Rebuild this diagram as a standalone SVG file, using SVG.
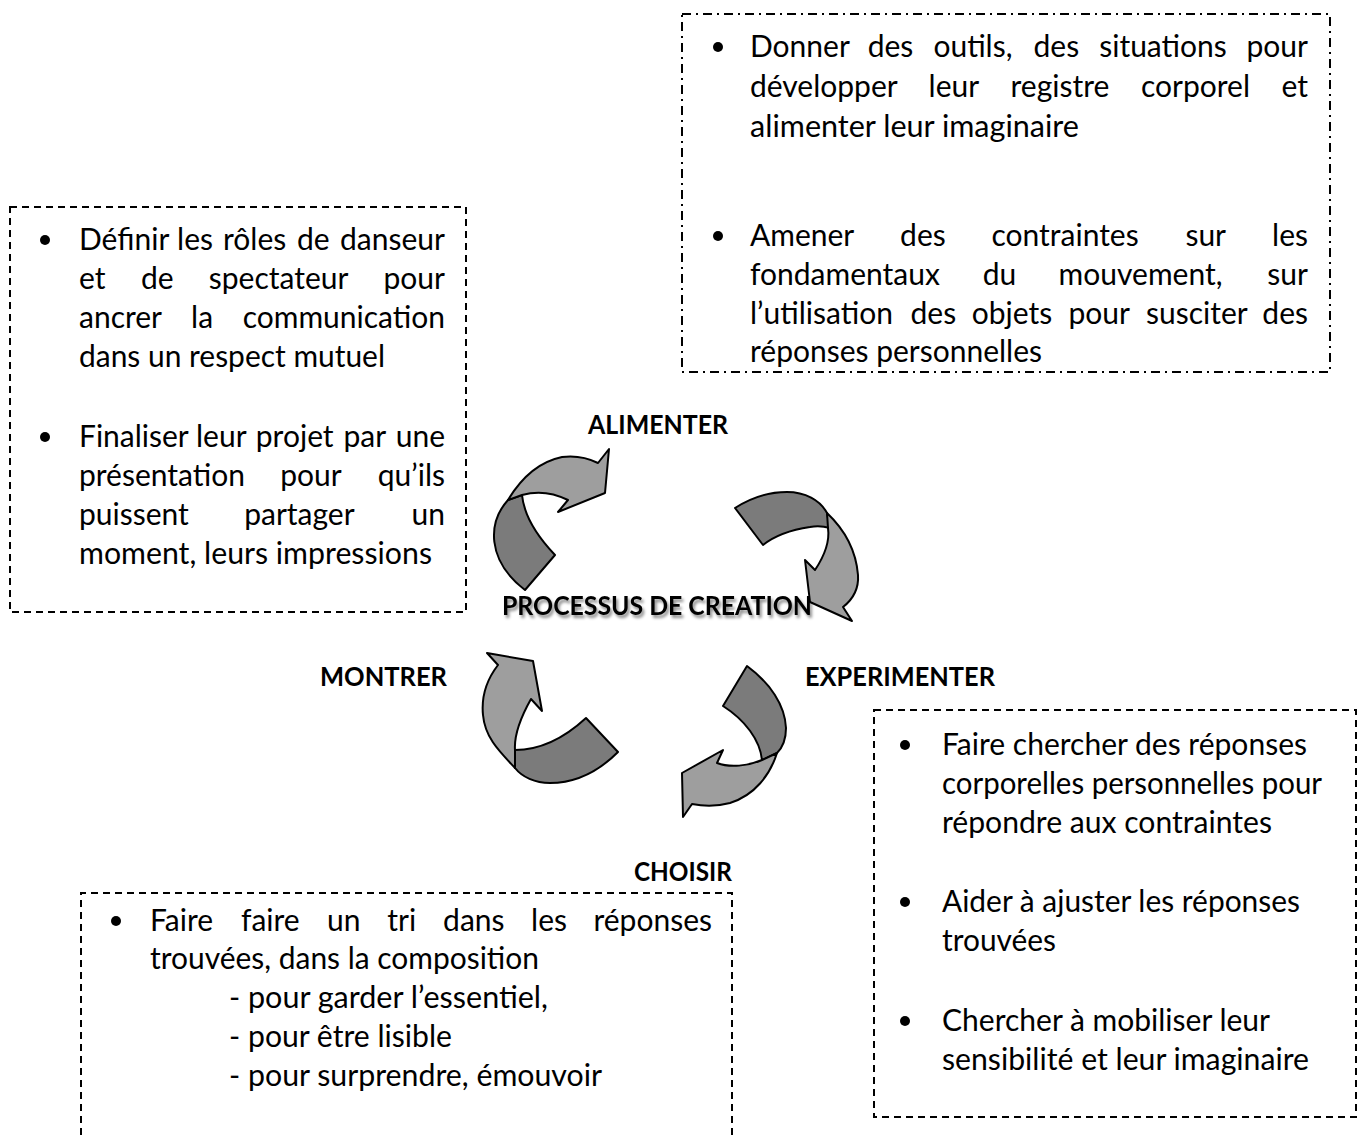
<svg xmlns="http://www.w3.org/2000/svg" width="1364" height="1135" viewBox="0 0 1364 1135">
<style>
.t{font-family:Lato,"Liberation Sans",sans-serif;font-size:30px;fill:#000}
.b{font-family:Lato,"Liberation Sans",sans-serif;font-size:27px;font-weight:bold;fill:#000}
.box{fill:none;stroke:#000;stroke-width:2;stroke-dasharray:7 5}
.boxdd{fill:none;stroke:#000;stroke-width:2;stroke-dasharray:9 5 2 5}
.dk{fill:#7b7b7b;stroke:#000;stroke-width:2;stroke-linejoin:round}
.lt{fill:#9e9e9e;stroke:#000;stroke-width:2;stroke-linejoin:round}
</style>
<defs>
<filter id="sh" x="-5%" y="-30%" width="115%" height="170%">
<feDropShadow dx="2" dy="3" stdDeviation="1.5" flood-color="#000" flood-opacity="0.45"/>
</filter>
</defs>
<rect width="1364" height="1135" fill="#fff"/>

<g id="box-top">
<rect class="boxdd" x="682" y="14" width="648" height="358"/>
<circle cx="718" cy="47" r="5"/>
<text class="t" y="57"><tspan x="750">Donner</tspan><tspan x="867.7">des</tspan><tspan x="933.4">outils,</tspan><tspan x="1033.5">des</tspan><tspan x="1099.2">situations</tspan><tspan x="1308" text-anchor="end">pour</tspan></text>
<text class="t" y="97"><tspan x="750">développer</tspan><tspan x="928.6">leur</tspan><tspan x="1010.5">registre</tspan><tspan x="1141">corporel</tspan><tspan x="1308" text-anchor="end">et</tspan></text>
<text class="t" x="750" y="137" textLength="329" lengthAdjust="spacingAndGlyphs">alimenter leur imaginaire</text>
<circle cx="718" cy="236" r="5"/>
<text class="t" y="246"><tspan x="750">Amener</tspan><tspan x="900.1">des</tspan><tspan x="991.5">contraintes</tspan><tspan x="1185.4">sur</tspan><tspan x="1308" text-anchor="end">les</tspan></text>
<text class="t" y="285"><tspan x="750">fondamentaux</tspan><tspan x="982.8">du</tspan><tspan x="1058.6">mouvement,</tspan><tspan x="1308" text-anchor="end">sur</tspan></text>
<text class="t" y="324"><tspan x="750">l’utilisation</tspan><tspan x="910.5">des</tspan><tspan x="971.8">objets</tspan><tspan x="1068.4">pour</tspan><tspan x="1146.1">susciter</tspan><tspan x="1308" text-anchor="end">des</tspan></text>
<text class="t" x="750" y="362" textLength="292" lengthAdjust="spacingAndGlyphs">réponses personnelles</text>
</g>

<g id="box-left">
<rect class="box" x="10" y="207" width="456" height="405"/>
<circle cx="45" cy="240" r="5"/>
<text class="t" y="250"><tspan x="79">Définir</tspan><tspan x="177.1">les</tspan><tspan x="223">rôles</tspan><tspan x="296.9">de</tspan><tspan x="445" text-anchor="end">danseur</tspan></text>
<text class="t" y="289"><tspan x="79">et</tspan><tspan x="140.9">de</tspan><tspan x="208.8">spectateur</tspan><tspan x="445" text-anchor="end">pour</tspan></text>
<text class="t" y="328"><tspan x="79">ancrer</tspan><tspan x="191.1">la</tspan><tspan x="445" text-anchor="end">communication</tspan></text>
<text class="t" x="79" y="367" textLength="306" lengthAdjust="spacingAndGlyphs">dans un respect mutuel</text>
<circle cx="45" cy="437" r="5"/>
<text class="t" y="447"><tspan x="79">Finaliser</tspan><tspan x="196">leur</tspan><tspan x="255.8">projet</tspan><tspan x="343.5">par</tspan><tspan x="445" text-anchor="end">une</tspan></text>
<text class="t" y="486"><tspan x="79">présentation</tspan><tspan x="280.3">pour</tspan><tspan x="445" text-anchor="end">qu’ils</tspan></text>
<text class="t" y="525"><tspan x="79">puissent</tspan><tspan x="244.2">partager</tspan><tspan x="445" text-anchor="end">un</tspan></text>
<text class="t" x="79" y="564" textLength="353" lengthAdjust="spacingAndGlyphs">moment, leurs impressions</text>
</g>

<g id="box-bottom-left">
<path class="box" d="M81,1135 V893 H732 V1135"/>
<circle cx="116" cy="921" r="5"/>
<text class="t" y="931"><tspan x="150">Faire</tspan><tspan x="241">faire</tspan><tspan x="327.1">un</tspan><tspan x="387.3">tri</tspan><tspan x="443.1">dans</tspan><tspan x="531.1">les</tspan><tspan x="712" text-anchor="end">réponses</tspan></text>
<text class="t" x="150" y="969" textLength="389" lengthAdjust="spacingAndGlyphs">trouvées, dans la composition</text>
<text class="t" x="229" y="1008">-</text>
<text class="t" x="248" y="1008" textLength="300" lengthAdjust="spacingAndGlyphs">pour garder l’essentiel,</text>
<text class="t" x="229" y="1047">-</text>
<text class="t" x="248" y="1047" textLength="204" lengthAdjust="spacingAndGlyphs">pour être lisible</text>
<text class="t" x="229" y="1086">-</text>
<text class="t" x="248" y="1086" textLength="354" lengthAdjust="spacingAndGlyphs">pour surprendre, émouvoir</text>
</g>

<g id="box-bottom-right">
<rect class="box" x="874" y="710" width="482" height="407"/>
<circle cx="905" cy="745" r="5"/>
<text class="t" x="942" y="755" textLength="365" lengthAdjust="spacingAndGlyphs">Faire chercher des réponses</text>
<text class="t" x="942" y="794" textLength="380" lengthAdjust="spacingAndGlyphs">corporelles personnelles pour</text>
<text class="t" x="942" y="833" textLength="330" lengthAdjust="spacingAndGlyphs">répondre aux contraintes</text>
<circle cx="905" cy="902" r="5"/>
<text class="t" x="942" y="912" textLength="358" lengthAdjust="spacingAndGlyphs">Aider à ajuster les réponses</text>
<text class="t" x="942" y="951" textLength="114" lengthAdjust="spacingAndGlyphs">trouvées</text>
<circle cx="905" cy="1021" r="5"/>
<text class="t" x="942" y="1031" textLength="328" lengthAdjust="spacingAndGlyphs">Chercher à mobiliser leur</text>
<text class="t" x="942" y="1070" textLength="367" lengthAdjust="spacingAndGlyphs">sensibilité et leur imaginaire</text>
</g>

<g id="labels">
<text class="b" x="588" y="434" textLength="140" lengthAdjust="spacingAndGlyphs">ALIMENTER</text>
<text class="b" x="805" y="686" textLength="190" lengthAdjust="spacingAndGlyphs">EXPERIMENTER</text>
<text class="b" x="320" y="686" textLength="127" lengthAdjust="spacingAndGlyphs">MONTRER</text>
<text class="b" x="634" y="881" textLength="98" lengthAdjust="spacingAndGlyphs">CHOISIR</text>
<text class="b" x="502" y="615" textLength="310" lengthAdjust="spacingAndGlyphs" filter="url(#sh)">PROCESSUS DE CREATION</text>
</g>

<g id="connectors">
<g id="arrow-alimenter">
<path class="dk" d="M508,500 C488,522 486,560 525,590 L555,555 C536,535 524,515 522,495 Z"/>
<path class="lt" d="M508,500 C520,480 538,462 562,457 C578,455 590,459 598,463 L609,449 L605,493 L558,512 L568,500 C552,492 536,491 522,495 Z"/>
</g>
<g id="arrow-experimenter">
<path class="dk" d="M735,508 C752,497 770,492 787,492 C805,492 820,500 827,513 L830,528 C823,526 815,526 810,527 C790,530 773,537 763,545 Z"/>
<path class="lt" d="M827,513 C845,530 856,550 858,575 C859,590 852,600 843,607 L852,621 L810,602 L805,560 L815,570 C825,555 830,542 828,528 Z"/>
</g>
<g id="arrow-montrer">
<path class="lt" d="M487,653 L533,661 L542,711 L531,699 C522,715 514,735 515,750 L515,768 C500,752 485,738 483,715 C481,695 488,678 498,665 Z"/>
<path class="dk" d="M515,750 C535,750 560,742 586,718 L618,752 C598,772 575,783 550,783 C535,783 522,777 515,768 Z"/>
</g>
<g id="arrow-choisir">
<path class="dk" d="M747,666 C770,683 785,705 786,728 C786,740 782,748 777,753 L762,760 C760,740 745,720 723,706 Z"/>
<path class="lt" d="M777,753 C770,775 755,795 730,803 C715,807 702,806 692,804 L683,817 L682,773 L723,750 L717,763 C730,768 748,766 762,760 Z"/>
</g>
</g>
</svg>
